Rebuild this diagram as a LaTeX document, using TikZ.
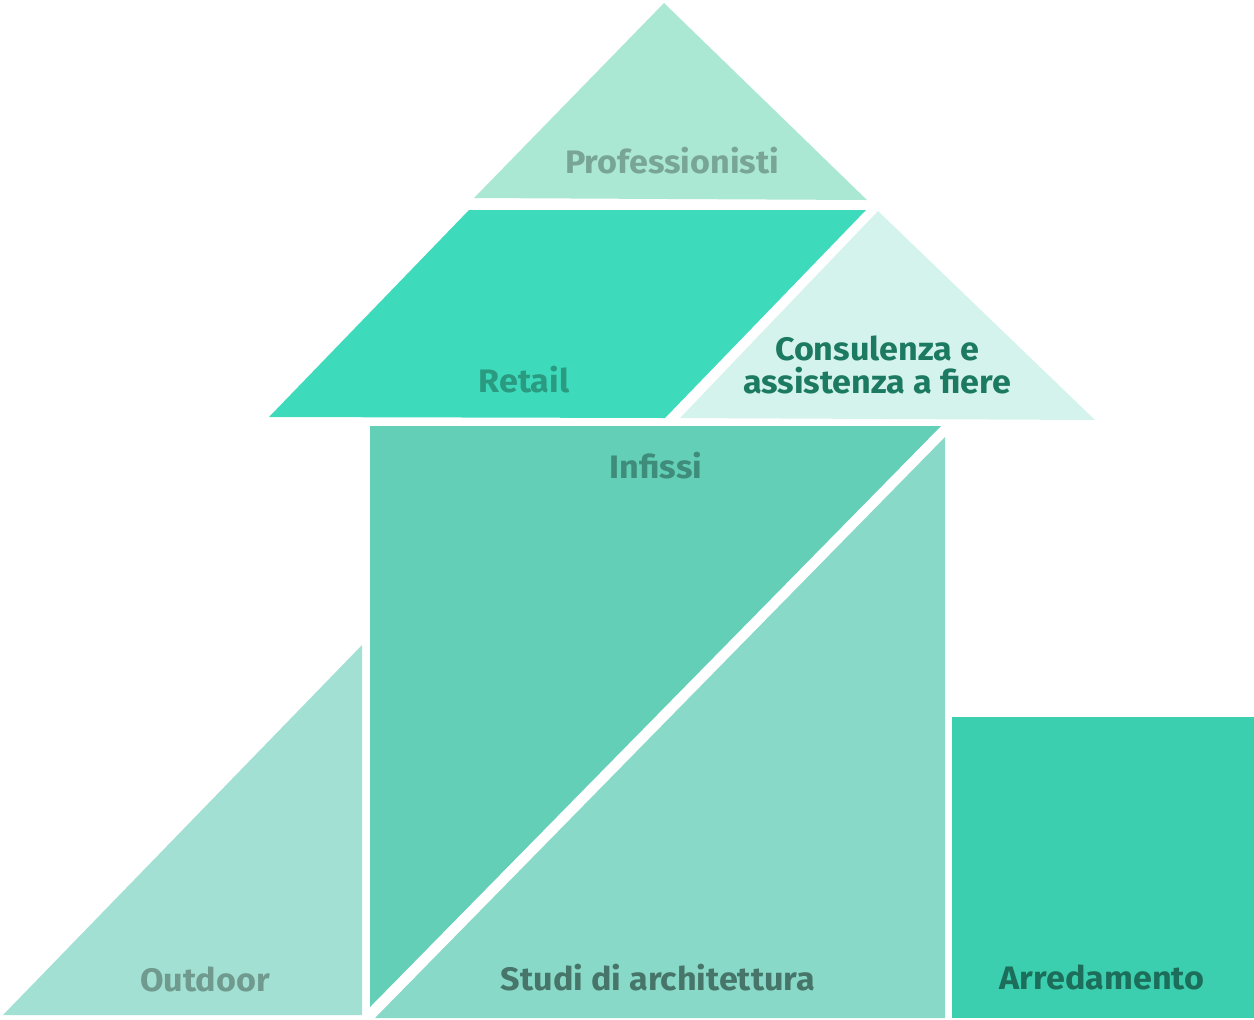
\documentclass[tikz,border=0pt]{standalone}
\usepackage{fontspec}
\setmainfont{Fira Sans}[FakeStretch=1.05]
\definecolor{cProf}{HTML}{ABE8D3}
\definecolor{cRetail}{HTML}{3DDBBB}
\definecolor{cCons}{HTML}{D4F3EC}
\definecolor{cInf}{HTML}{63CFB7}
\definecolor{cStudi}{HTML}{88D9C7}
\definecolor{cOut}{HTML}{A1E0D3}
\definecolor{cArr}{HTML}{3BCFAF}
\definecolor{tProf}{HTML}{78A595}
\definecolor{tRetail}{HTML}{2A9A80}
\definecolor{tCons}{HTML}{1D7A62}
\definecolor{tInf}{HTML}{3E8C79}
\definecolor{tStudi}{HTML}{47756A}
\definecolor{tOut}{HTML}{719A8F}
\definecolor{tArr}{HTML}{1C6E5A}
\begin{document}
\begin{tikzpicture}[x=0.02cm,y=-0.02cm,
  lbl/.style={font=\fontsize{18.5}{21}\selectfont\bfseries, inner sep=0pt, anchor=base}]
\useasboundingbox (0,0) rectangle (1254,1019);
% shapes
\fill[cProf] (664,3) -- (867,200) -- (474,198) -- cycle;
\fill[cRetail] (469,210) -- (866,210) -- (665,418) -- (269,417) -- cycle;
\fill[cCons] (878,211) -- (1095,420) -- (680,418) -- cycle;
\fill[cInf] (370,426) -- (941,426) -- (370,1007) -- cycle;
\fill[cStudi] (945,437) -- (945,1018) -- (375,1018) -- cycle;
\fill[cOut] (362,645) -- (362,1015) -- (3,1015) -- cycle;
\fill[cArr] (952,717) rectangle (1254,1018);
% labels
\node[lbl, text=tProf] (prof) at (672,173) {Professionisti};
\node[lbl, text=tRetail] (retail) at (524,392) {Retail};
\node[lbl, text=tCons, anchor=center, align=center] (cons) at (877,365) {Consulenza e\\[-2pt]assistenza a fiere};
\node[lbl, text=tInf] (inf) at (656,478) {Infissi};
\node[lbl, text=tOut] (out) at (205,991) {Outdoor};
\node[lbl, text=tStudi] (studi) at (658,990) {Studi di architettura};
\node[lbl, text=tArr] (arr) at (1102,989) {Arredamento};
\end{tikzpicture}
\end{document}
